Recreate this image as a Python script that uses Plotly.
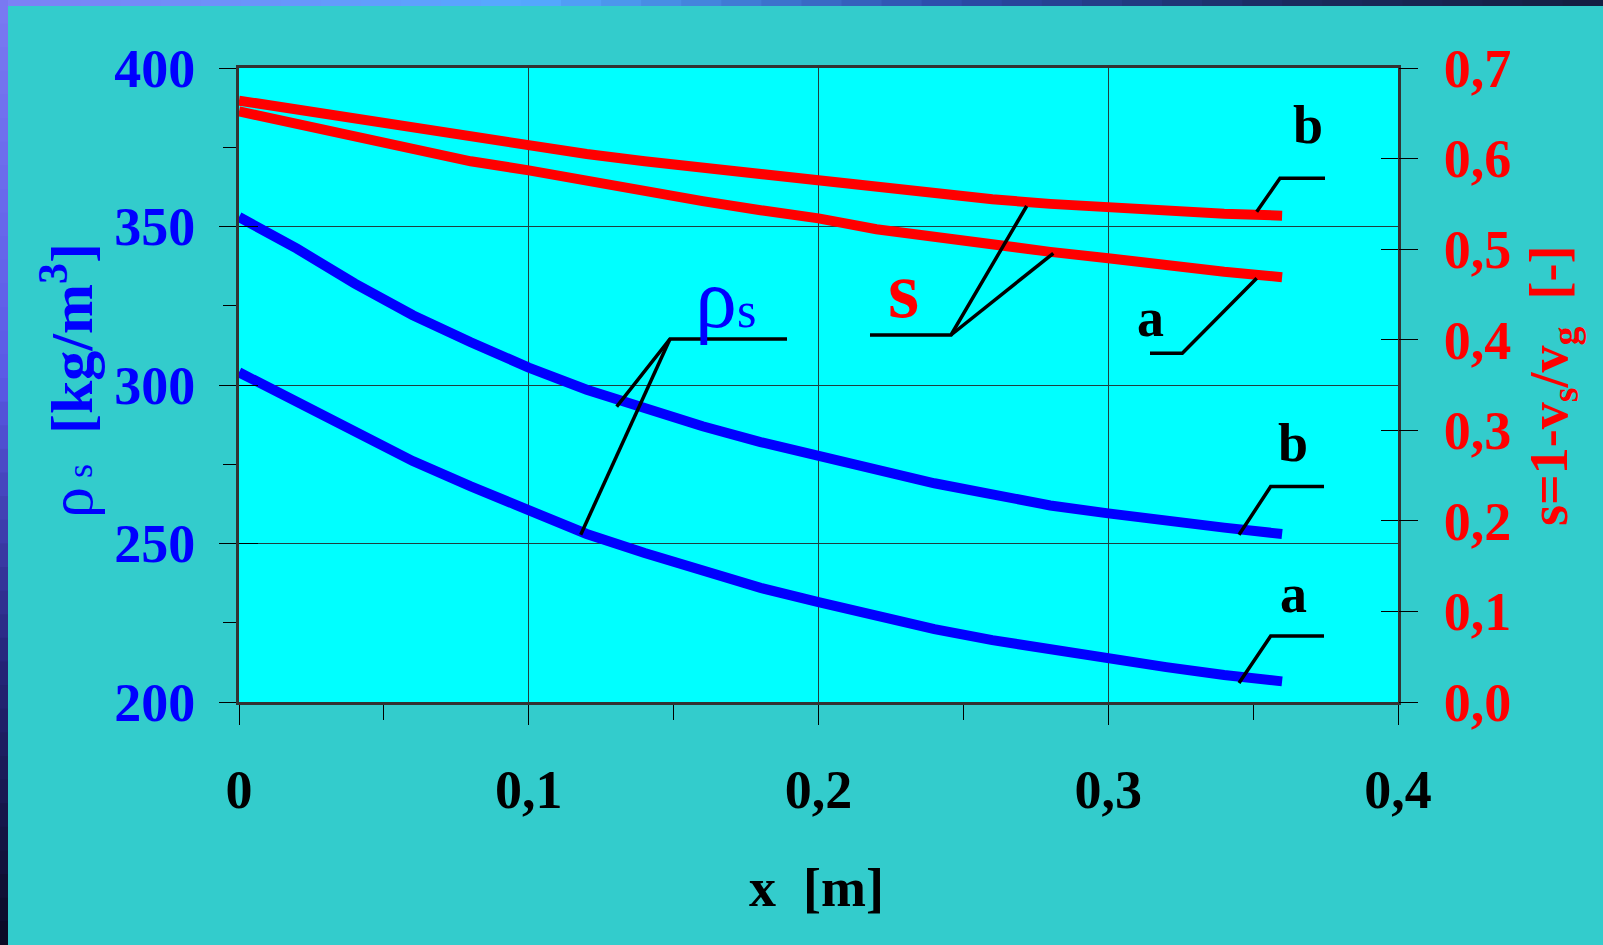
import plotly.graph_objects as go

# ---------------- data ----------------
x_m = [0.00, 0.02, 0.04, 0.06, 0.08, 0.10, 0.12, 0.14, 0.16, 0.18,
       0.20, 0.22, 0.24, 0.26, 0.28, 0.30, 0.32, 0.34, 0.36]

rho_b = [353, 343, 332, 322, 313.5, 305.5, 298.5, 292.5, 287, 282,
         277.5, 273, 269, 265.5, 262, 259.5, 257, 255, 253]
rho_a = [304, 294.5, 285, 276, 268, 260.5, 253, 247, 241.5, 236,
         231.5, 227, 223, 219.5, 216.5, 213.5, 211, 208.5, 206.5]

s_b = [0.664, 0.654, 0.643, 0.633, 0.623, 0.614, 0.605, 0.597, 0.590, 0.582,
       0.575, 0.568, 0.561, 0.555, 0.550, 0.546, 0.542, 0.539, 0.537]
s_a = [0.652, 0.638, 0.624, 0.610, 0.597, 0.587, 0.575, 0.563, 0.553, 0.543,
       0.534, 0.522, 0.513, 0.505, 0.497, 0.490, 0.482, 0.475, 0.469]

x_ticks = [0, 0.1, 0.2, 0.3, 0.4]
x_ticklabels = ["0", "0,1", "0,2", "0,3", "0,4"]
rho_ticks = [200, 250, 300, 350, 400]
s_ticks = [0.0, 0.1, 0.2, 0.3, 0.4, 0.5, 0.6, 0.7]
s_ticklabels = ["0,0", "0,1", "0,2", "0,3", "0,4", "0,5", "0,6", "0,7"]

# ---------------- layout constants ----------------
W, H = 1603, 945
ML, MR, MT, MB = 239, 205, 68, 243
PW, PH = W - ML - MR, H - MT - MB
FONT = "Liberation Serif"
BLUE, RED, BLACK = "#0000FF", "#FF0000", "#000000"
LW = 10


def P(X, Y):
    """pixel -> paper coords"""
    return (X - ML) / PW, (H - MB - Y) / PH


fig = go.Figure()
fig.add_trace(go.Scatter(x=x_m, y=rho_b, mode="lines", yaxis="y",
                         line=dict(color=BLUE, width=LW), showlegend=False))
fig.add_trace(go.Scatter(x=x_m, y=rho_a, mode="lines", yaxis="y",
                         line=dict(color=BLUE, width=LW), showlegend=False))
fig.add_trace(go.Scatter(x=x_m, y=s_b, mode="lines", yaxis="y2",
                         line=dict(color=RED, width=LW), showlegend=False))
fig.add_trace(go.Scatter(x=x_m, y=s_a, mode="lines", yaxis="y2",
                         line=dict(color=RED, width=LW), showlegend=False))

tickfont_common = dict(family=FONT, size=54, weight="bold")

fig.update_layout(
    width=W, height=H,
    margin=dict(l=ML, r=MR, t=MT, b=MB, pad=0),
    paper_bgcolor="#33CCCC",
    plot_bgcolor="#00FFFF",
    showlegend=False,
    xaxis=dict(range=[0, 0.4], tickvals=x_ticks, ticktext=x_ticklabels,
               ticks="outside", ticklen=20, tickwidth=1, tickcolor=BLACK,
               ticklabelstandoff=18,
               tickfont=dict(color=BLACK, **tickfont_common),
               showgrid=True, gridcolor="#1f3f3f", gridwidth=1,
               showline=True, linecolor="#333333", linewidth=3, mirror=True,
               zeroline=False,
               minor=dict(dtick=0.05, ticks="outside", ticklen=15,
                          tickcolor=BLACK, tickwidth=1, showgrid=False)),
    yaxis=dict(range=[200, 400], tickvals=rho_ticks,
               ticks="outside", ticklen=17, tickwidth=1, tickcolor=BLACK,
               ticklabelstandoff=13,
               tickfont=dict(color=BLUE, **tickfont_common),
               showgrid=True, gridcolor="#1f3f3f", gridwidth=1,
               showline=True, linecolor="#333333", linewidth=3, mirror=True,
               zeroline=False,
               minor=dict(dtick=25, ticks="outside", ticklen=13,
                          tickcolor=BLACK, tickwidth=1, showgrid=False)),
    yaxis2=dict(range=[0, 0.7], tickvals=s_ticks, ticktext=s_ticklabels,
                overlaying="y", side="right",
                ticks="outside", ticklen=19, tickwidth=1, tickcolor=BLACK,
                ticklabelstandoff=15,
                tickfont=dict(color=RED, **tickfont_common),
                showgrid=False, zeroline=False, showline=False),
    yaxis3=dict(range=[200, 400], tickvals=rho_ticks, overlaying="y",
                side="left", ticks="inside", ticklen=19, tickwidth=1,
                tickcolor=BLACK, showticklabels=False, showgrid=False,
                zeroline=False, showline=False),
    yaxis4=dict(range=[0, 0.7], tickvals=s_ticks, overlaying="y",
                side="right", ticks="inside", ticklen=17, tickwidth=1,
                tickcolor=BLACK, showticklabels=False, showgrid=False,
                zeroline=False, showline=False),
)
# empty traces so the overlay (inner tick) axes are drawn
fig.add_trace(go.Scatter(x=[None], y=[None], yaxis="y3", showlegend=False))
fig.add_trace(go.Scatter(x=[None], y=[None], yaxis="y4", showlegend=False))

shapes = []


def hexlerp(c1, c2, t):
    a = [int(c1[i:i + 2], 16) for i in (1, 3, 5)]
    b = [int(c2[i:i + 2], 16) for i in (1, 3, 5)]
    return "#%02x%02x%02x" % tuple(round(a[k] + (b[k] - a[k]) * t) for k in range(3))


def multi_lerp(stops, t):
    for i in range(len(stops) - 1):
        t0, c0 = stops[i]
        t1, c1 = stops[i + 1]
        if t <= t1:
            return hexlerp(c0, c1, (t - t0) / (t1 - t0) if t1 > t0 else 0)
    return stops[-1][1]


# decorative gradient strips (top and left edges of the slide)
top_stops = [(0, "#7f7ff5"), (0.33, "#55aaff"), (0.6, "#2b4aa8"), (0.8, "#1a2c60"), (1, "#141e40")]
N = 40
for i in range(N):
    x0p, _ = P(W * i / N, 0)
    x1p, _ = P(W * (i + 1) / N + 1, 0)
    _, y0p = P(0, 0)
    _, y1p = P(0, 6)
    shapes.append(dict(type="rect", xref="paper", yref="paper", x0=x0p, x1=x1p,
                       y0=y1p, y1=y0p, line=dict(width=0),
                       fillcolor=multi_lerp(top_stops, (i + 0.5) / N), layer="above"))
left_stops = [(0, "#7a7af2"), (0.4, "#5a5ae6"), (0.7, "#25257a"), (1, "#0a0a22")]
for i in range(N):
    _, y0p = P(0, H * i / N)
    _, y1p = P(0, H * (i + 1) / N + 1)
    x0p, _ = P(0, 0)
    x1p, _ = P(8, 0)
    shapes.append(dict(type="rect", xref="paper", yref="paper", x0=x0p, x1=x1p,
                       y0=y1p, y1=y0p, line=dict(width=0),
                       fillcolor=multi_lerp(left_stops, (i + 0.5) / N), layer="above"))


def leader(points):
    d = ""
    for k, (X, Y) in enumerate(points):
        xp, yp = P(X, Y)
        d += ("M" if k == 0 else "L") + f"{xp:.5f},{yp:.5f} "
    shapes.append(dict(type="path", xref="paper", yref="paper", path=d.strip(),
                       line=dict(color=BLACK, width=3.5)))


leader([(1256.7, 211.7), (1280, 178.3), (1325, 178.3)])
leader([(1256.7, 278.3), (1182.3, 353.3), (1150, 353.3)])
leader([(870, 335), (951, 335), (1026.7, 206)])
leader([(951, 335), (1053.3, 253.3)])
leader([(787, 339), (670, 339), (616.7, 406.7)])
leader([(670, 339), (580.7, 534.7)])
leader([(1239, 534.7), (1270.7, 486.6), (1324, 486.6)])
leader([(1239, 683), (1270.7, 636), (1324, 636)])

fig.update_layout(shapes=shapes)

annotations = []


def label(text, X, Y, color=BLACK, size=54, angle=0, weight="bold"):
    xp, yp = P(X, Y)
    annotations.append(dict(text=text, x=xp, y=yp, xref="paper", yref="paper",
                            xanchor="center", yanchor="middle", showarrow=False,
                            textangle=angle,
                            font=dict(family=FONT, size=size, color=color, weight=weight)))


label("b", 1308, 125)
label("a", 1150, 318)
label("s", 903, 290, color=RED, size=80)
label("ρ<span style='font-size:50px'>s</span>", 725, 298, color=BLUE, size=84, weight="normal")
label("b", 1293, 443)
label("a", 1293, 594)

# axis titles
label("x  [m]", 816, 888)
label("<span style='font-size:62px;font-weight:normal'>ρ</span>"
      "<span style='font-size:36px;font-weight:normal'> s</span>  [kg/m<sup>3</sup>]",
      67, 381, color=BLUE, size=60, angle=-90)
label("s=1-v<sub>s</sub>/v<sub>g</sub>  [-]", 1552, 386, color=RED, angle=-90)

fig.update_layout(annotations=annotations)

fig.write_html("out.html", config={"displayModeBar": False},
               post_script="document.body.style.margin='0';document.body.style.overflow='hidden';")
